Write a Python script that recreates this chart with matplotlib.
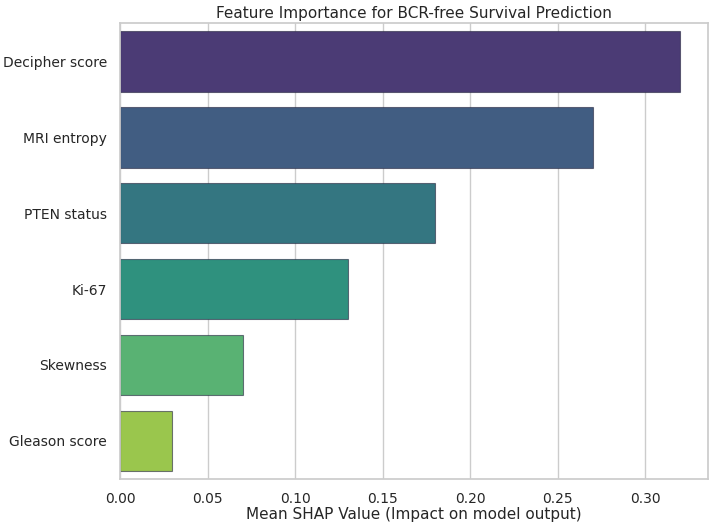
import matplotlib
matplotlib.use("Agg")
import matplotlib.pyplot as plt
import pandas as pd
import seaborn as sns

features = ["Decipher score", "MRI entropy", "PTEN status", "Ki-67", "Skewness", "Gleason score"]
importance = [0.32, 0.27, 0.18, 0.13, 0.07, 0.03]

df = pd.DataFrame({"Feature": features, "Importance": importance})

sns.set_theme(style="whitegrid")
plt.rcParams["font.family"] = ["DejaVu Sans"]

fig = plt.figure(figsize=(7.14, 5.28), dpi=100)
ax = fig.add_axes([0.168, 0.093, 0.824, 0.863])
sns.barplot(data=df, x="Importance", y="Feature", hue="Feature",
            palette="viridis", legend=False, ax=ax,
            edgecolor=(0.15, 0.15, 0.25, 0.6), linewidth=0.8)
ax.set_xlabel("Mean SHAP Value (Impact on model output)", fontsize=11, labelpad=1)
ax.set_ylabel("")
ax.set_title("Feature Importance for BCR-free Survival Prediction", fontsize=11, pad=4)
ax.tick_params(labelsize=10)
fig.savefig("out.png", dpi=100)
